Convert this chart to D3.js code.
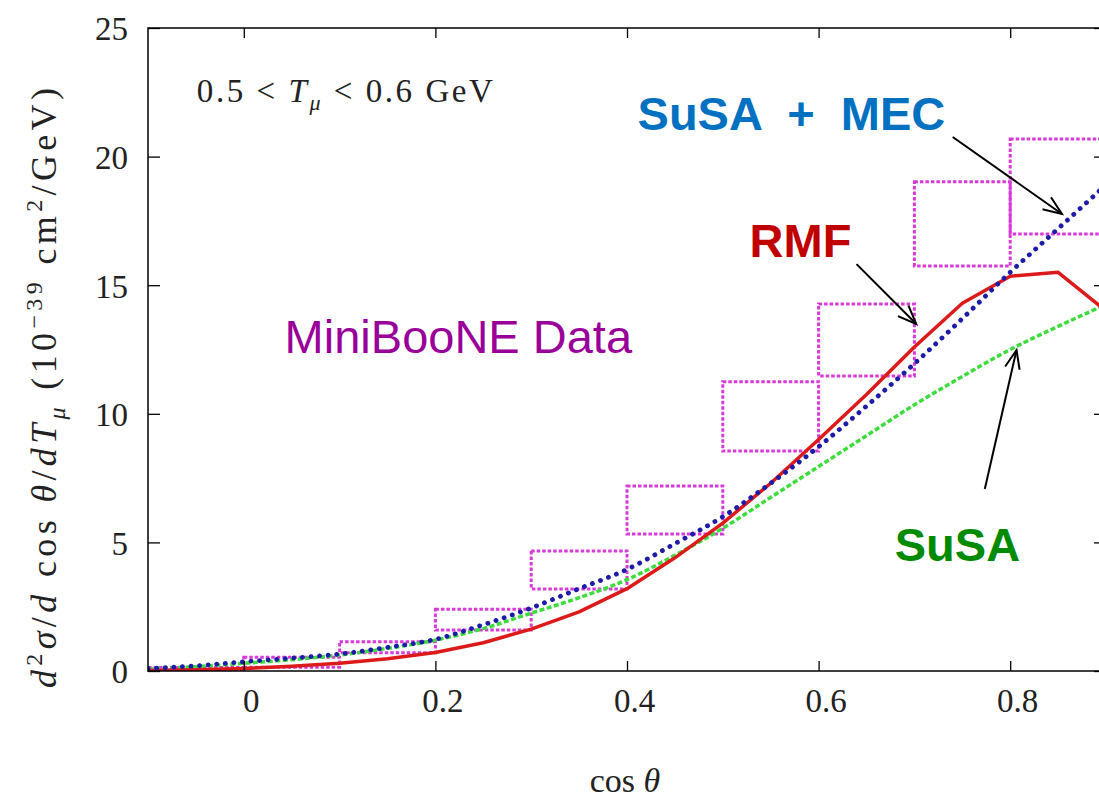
<!DOCTYPE html>
<html>
<head>
<meta charset="utf-8">
<script src="https://cdn.jsdelivr.net/npm/d3@7"></script>
<style>
  html, body { margin: 0; padding: 0; background: #fff; }
  svg { display: block; }
</style>
</head>
<body>
<svg id="chart" width="1099" height="798"></svg>
<script>
// ---------------- data ----------------
const cosGrid = [-0.1, -0.05, 0, 0.05, 0.1, 0.15, 0.2, 0.25, 0.3, 0.35, 0.4, 0.45, 0.5, 0.55, 0.6, 0.65, 0.7, 0.75, 0.8, 0.85, 0.9];
const rmfValues = [0.02, 0.05, 0.1, 0.18, 0.3, 0.48, 0.72, 1.1, 1.63, 2.3, 3.2, 4.4, 5.75, 7.3, 9.0, 10.75, 12.6, 14.3, 15.35, 15.5, 14.0];
const susaValues = [0.08, 0.17, 0.3, 0.44, 0.62, 0.88, 1.2, 1.65, 2.25, 2.85, 3.55, 4.5, 5.55, 6.75, 7.95, 9.15, 10.35, 11.45, 12.5, 13.4, 14.25];
const susaMecValues = [0.1, 0.2, 0.36, 0.5, 0.66, 0.92, 1.23, 1.8, 2.45, 3.2, 3.95, 4.95, 6.0, 7.3, 8.72, 10.3, 11.95, 13.7, 15.5, 17.2, 18.9];

const binLow  = [-0.1, 0.0, 0.1, 0.2, 0.3, 0.4, 0.5, 0.6, 0.7, 0.8];
const binHigh = [0.0, 0.1, 0.2, 0.3, 0.4, 0.5, 0.6, 0.7, 0.8, 0.9];
const dataLow  = [0.04, 0.15, 0.71, 1.59, 3.19, 5.33, 8.55, 11.47, 15.75, 16.99];
const dataHigh = [0.14, 0.53, 1.14, 2.40, 4.67, 7.19, 11.25, 14.27, 19.02, 20.68];

const xTicks = [0, 0.2, 0.4, 0.6, 0.8];
const xTickLabels = ["0", "0.2", "0.4", "0.6", "0.8"];
const yTicks = [0, 5, 10, 15, 20, 25];
const yTickLabels = ["0", "5", "10", "15", "20", "25"];

// ---------------- layout ----------------
const svg = d3.select("#chart");
const x = d3.scaleLinear().domain([-0.1, 0.9]).range([148, 1106]);
const y = d3.scaleLinear().domain([0, 25]).range([671, 28]);
const serif = "'Liberation Serif', 'DejaVu Serif', serif";
const sans = "'Liberation Sans', Arial, sans-serif";

const defs = svg.append("defs");
defs.append("clipPath").attr("id", "plotclip")
  .append("rect").attr("x", x(-0.1)).attr("y", y(25)).attr("width", x(0.9) - x(-0.1)).attr("height", y(0) - y(25));

const plot = svg.append("g").attr("clip-path", "url(#plotclip)");

// data boxes
const bins = binLow.map((lo, i) => ({lo, hi: binHigh[i], a: dataLow[i], b: dataHigh[i]}));
plot.selectAll("rect.box").data(bins).enter().append("rect")
  .attr("class", "box")
  .attr("x", d => x(d.lo))
  .attr("y", d => y(d.b))
  .attr("width", d => x(d.hi) - x(d.lo))
  .attr("height", d => y(d.a) - y(d.b))
  .attr("fill", "none")
  .attr("stroke", "#d83ad8")
  .attr("stroke-width", 3)
  .attr("stroke-dasharray", "3.5,2");

const pts = arr => cosGrid.map((c, i) => [c, arr[i]]);
const lineSmooth = d3.line().x(d => x(d[0])).y(d => y(d[1])).curve(d3.curveMonotoneX);
const lineLin = d3.line().x(d => x(d[0])).y(d => y(d[1]));

plot.append("path").datum(pts(susaValues))
  .attr("d", lineSmooth).attr("fill", "none")
  .attr("stroke", "#3ddc3d").attr("stroke-width", 3.5)
  .attr("stroke-dasharray", "5,2.5");

plot.append("path").datum(pts(rmfValues))
  .attr("d", lineLin).attr("fill", "none")
  .attr("stroke", "#dd1a1a").attr("stroke-width", 3.5)
  .attr("stroke-linejoin", "round");

plot.append("path").datum(pts(susaMecValues))
  .attr("d", lineSmooth).attr("fill", "none")
  .attr("stroke", "#1c1ca8").attr("stroke-width", 4.8)
  .attr("stroke-linecap", "round")
  .attr("stroke-dasharray", "0.1,8.5");

// ---------------- frame & axes ----------------
svg.append("rect")
  .attr("x", x(-0.1)).attr("y", y(25))
  .attr("width", x(0.9) - x(-0.1)).attr("height", y(0) - y(25))
  .attr("fill", "none").attr("stroke", "#000").attr("stroke-width", 1.5);

function styleAxis(g) {
  g.select(".domain").remove();
  g.selectAll(".tick line").attr("stroke", "#000").attr("stroke-width", 1.3);
}

const xAxisB = svg.append("g").attr("transform", `translate(0,${y(0)})`)
  .call(d3.axisBottom(x).tickValues(xTicks).tickSizeInner(-10).tickSizeOuter(0)
        .tickFormat((d, i) => xTickLabels[i]));
styleAxis(xAxisB);
xAxisB.selectAll(".tick text")
  .attr("font-family", serif).attr("font-size", 33).attr("fill", "#222")
  .attr("y", 41).attr("dy", null).attr("dx", 7);

const xAxisT = svg.append("g").attr("transform", `translate(0,${y(25)})`)
  .call(d3.axisTop(x).tickValues(xTicks).tickSizeInner(-10).tickSizeOuter(0).tickFormat(""));
styleAxis(xAxisT);

const yAxisL = svg.append("g").attr("transform", `translate(${x(-0.1)},0)`)
  .call(d3.axisLeft(y).tickValues(yTicks).tickSizeInner(-12).tickSizeOuter(0)
        .tickFormat((d, i) => yTickLabels[i]));
styleAxis(yAxisL);
yAxisL.selectAll(".tick text")
  .attr("font-family", serif).attr("font-size", 33).attr("fill", "#222")
  .attr("x", -20).attr("dy", "0.36em");

const yAxisR = svg.append("g").attr("transform", `translate(${x(0.9)},0)`)
  .call(d3.axisRight(y).tickValues(yTicks).tickSizeInner(-12).tickSizeOuter(0).tickFormat(""));
styleAxis(yAxisR);

// x axis label
const xl = svg.append("text").attr("x", 625).attr("y", 792)
  .attr("text-anchor", "middle").attr("font-family", serif).attr("font-size", 34).attr("fill", "#222");
xl.append("tspan").text("cos ");
xl.append("tspan").attr("font-style", "italic").text("θ");

// y axis label
const yl = svg.append("text")
  .attr("transform", "translate(56,388) rotate(-90)")
  .attr("text-anchor", "middle").attr("font-family", serif).attr("font-size", 36).attr("fill", "#222")
  .attr("textLength", 600).attr("lengthAdjust", "spacing");
yl.append("tspan").attr("font-style", "italic").text("d");
yl.append("tspan").attr("font-size", 24).attr("dy", -14).text("2");
yl.append("tspan").attr("font-style", "italic").attr("dy", 14).text("σ");
yl.append("tspan").text("/");
yl.append("tspan").attr("font-style", "italic").text("d");
yl.append("tspan").text(" cos ");
yl.append("tspan").attr("font-style", "italic").text("θ");
yl.append("tspan").text("/");
yl.append("tspan").attr("font-style", "italic").text("dT");
yl.append("tspan").attr("font-style", "italic").attr("font-size", 24).attr("dy", 9).text("μ");
yl.append("tspan").attr("dy", -9).text(" (10");
yl.append("tspan").attr("font-size", 24).attr("dy", -14).text("−39");
yl.append("tspan").attr("dy", 14).text(" cm");
yl.append("tspan").attr("font-size", 24).attr("dy", -14).text("2");
yl.append("tspan").attr("dy", 14).text("/GeV)");

// title inside plot
const tt = svg.append("text").attr("x", x(-0.049)).attr("y", y(22.13))
  .attr("font-family", serif).attr("font-size", 33).attr("fill", "#222")
  .attr("textLength", 296).attr("lengthAdjust", "spacing");
tt.append("tspan").text("0.5 < ");
tt.append("tspan").attr("font-style", "italic").text("T");
tt.append("tspan").attr("font-style", "italic").attr("font-size", 22).attr("dy", 8).text("μ");
tt.append("tspan").attr("dy", -8).text(" < 0.6 GeV");

// ---------------- annotations ----------------
const labels = [
  {text: "SuSA  +  MEC", cx: 0.411, cy: 21.05, color: "#0070c0", weight: "bold"},
  {text: "RMF", cx: 0.528, cy: 16.1, color: "#c00000", weight: "bold"},
  {text: "MiniBooNE Data", cx: 0.0426, cy: 12.37, color: "#990099", weight: "normal"},
  {text: "SuSA", cx: 0.6795, cy: 4.27, color: "#008a00", weight: "bold"}
];
svg.selectAll("text.ann").data(labels).enter().append("text")
  .attr("class", "ann")
  .attr("x", d => x(d.cx)).attr("y", d => y(d.cy))
  .attr("font-family", sans).attr("font-size", 47)
  .attr("font-weight", d => d.weight)
  .attr("fill", d => d.color)
  .style("white-space", "pre")
  .text(d => d.text);

const arrows = [
  {x0: 0.740, y0: 20.76, x1: 0.854, y1: 17.77},
  {x0: 0.6396, y0: 15.82, x1: 0.702, y1: 13.49},
  {x0: 0.7735, y0: 7.08, x1: 0.8066, y1: 12.48}
];
const ag = svg.append("g").attr("stroke", "#000").attr("stroke-width", 2).attr("fill", "none");
arrows.forEach(a => {
  const X0 = x(a.x0), Y0 = y(a.y0), X1 = x(a.x1), Y1 = y(a.y1);
  ag.append("line").attr("x1", X0).attr("y1", Y0).attr("x2", X1).attr("y2", Y1);
  const ang = Math.atan2(Y1 - Y0, X1 - X0);
  const L = 20, h = 0.38;
  const p1 = [X1 - L * Math.cos(ang - h), Y1 - L * Math.sin(ang - h)];
  const p2 = [X1 - L * Math.cos(ang + h), Y1 - L * Math.sin(ang + h)];
  ag.append("path").attr("d", `M${p1[0]},${p1[1]}L${X1},${Y1}L${p2[0]},${p2[1]}`);
});
</script>
</body>
</html>
